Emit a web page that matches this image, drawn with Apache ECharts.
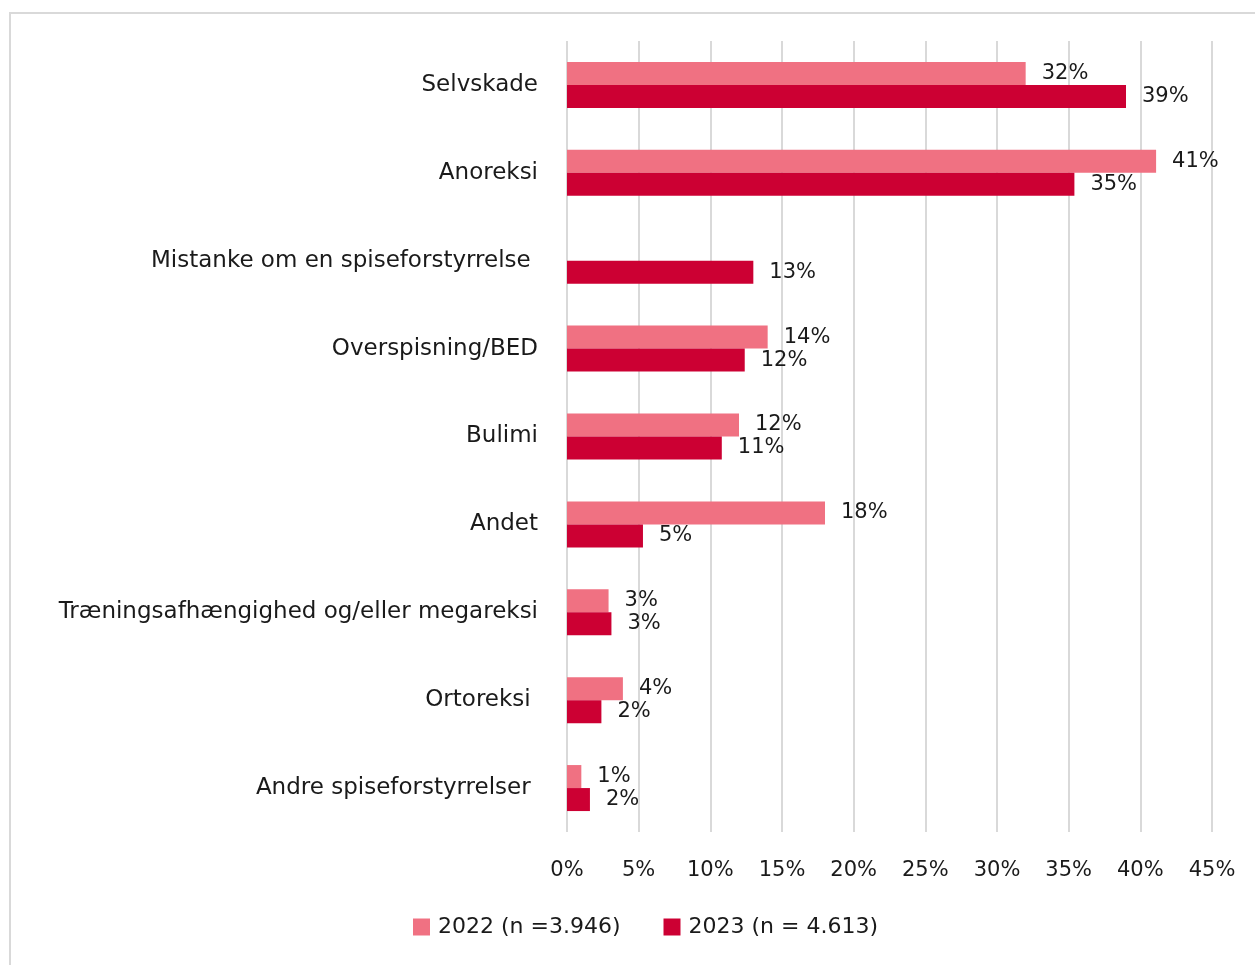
<!DOCTYPE html>
<html>
<head>
<meta charset="utf-8">
<script src="https://cdn.jsdelivr.net/npm/echarts@6/dist/echarts.min.js"></script>
<style>
  html, body { margin: 0; padding: 0; background: #fff; overflow: hidden; }
  #chart { width: 1255px; height: 965px; }
</style>
</head>
<body>
<div id="chart"></div>
<script>
// kategorier (top til bund)
const categories = [
  'Selvskade',
  'Anoreksi',
  'Mistanke om en spiseforstyrrelse ',
  'Overspisning/BED',
  'Bulimi',
  'Andet',
  'Træningsafhængighed og/eller megareksi',
  'Ortoreksi ',
  'Andre spiseforstyrrelser '
]
// andele i procent
const values2022 = [32.0, 41.1, null, 14.0, 12.0, 18.0, 2.9, 3.9, 1.0]
const values2023 = [39.0, 35.4, 13.0, 12.4, 10.8, 5.3, 3.1, 2.4, 1.6]
const seriesNames = ['2022 (n =3.946)', '2023 (n = 4.613)']

const font = 'DejaVu Sans'
const textColor = '#1a1a1a'

const chart = echarts.init(document.getElementById('chart'), null, {renderer: 'canvas'})

const labelCfg = {
  show: true,
  position: 'right',
  distance: 16,
  color: textColor,
  fontFamily: font,
  fontSize: 21,
  formatter: p => Math.round(p.value) + '%'
}

chart.setOption({
  animation: false,
  backgroundColor: '#fff',
  textStyle: {fontFamily: font},
  graphic: [
    {
      type: 'rect',
      shape: {x: 10, y: 13, width: 1400, height: 1100},
      style: {fill: 'none', stroke: '#d9d9d9', lineWidth: 2},
      silent: true
    }
  ],
  grid: {
    left: 567,
    right: 43,
    top: 41,
    bottom: 133,
    containLabel: false
  },
  legend: {
    bottom: 22,
    left: 408,
    itemWidth: 17,
    itemHeight: 17,
    itemGap: 43,
    icon: 'rect',
    textStyle: {fontFamily: font, fontSize: 22, color: textColor, padding: [0, 0, 0, 3]},
    data: seriesNames
  },
  xAxis: {
    type: 'value',
    min: 0,
    max: 45,
    interval: 5,
    axisLine: {show: false},
    axisTick: {show: false},
    axisLabel: {
      formatter: '{value}%',
      color: textColor,
      fontFamily: font,
      fontSize: 21,
      margin: 28
    },
    splitLine: {lineStyle: {color: '#d9d9d9', width: 2}}
  },
  yAxis: {
    type: 'category',
    inverse: true,
    data: categories,
    axisLine: {show: false},
    axisTick: {show: false},
    axisLabel: {
      color: textColor,
      fontFamily: font,
      fontSize: 23,
      margin: 29
    }
  },
  series: [
    {
      name: seriesNames[0],
      type: 'bar',
      data: values2022,
      barWidth: 23,
      barGap: '0%',
      itemStyle: {color: '#f07182'},
      label: labelCfg
    },
    {
      name: seriesNames[1],
      type: 'bar',
      data: values2023,
      barWidth: 23,
      barGap: '0%',
      itemStyle: {color: '#cc0033'},
      label: labelCfg
    }
  ]
})
</script>
</body>
</html>
